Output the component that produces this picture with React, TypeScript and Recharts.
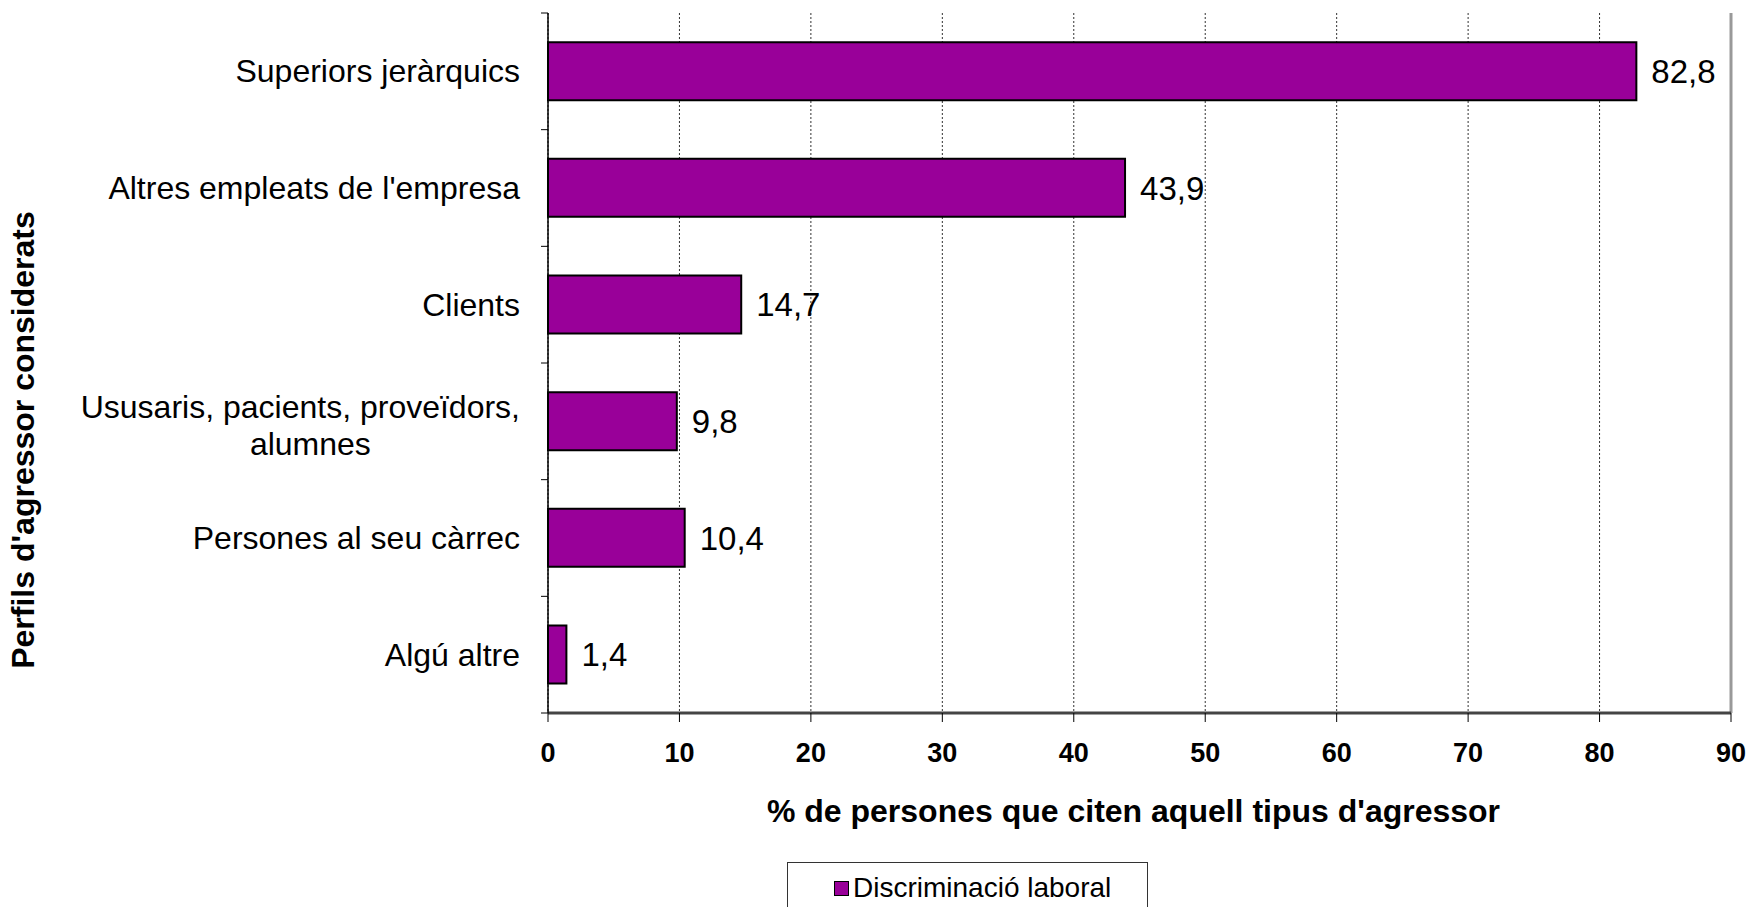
import { BarChart, Bar, XAxis, YAxis, CartesianGrid, LabelList, Legend, ReferenceLine } from 'recharts'

const CATEGORIES = [
  'Superiors jeràrquics',
  "Altres empleats de l'empresa",
  'Clients',
  'Ususaris, pacients, proveïdors,\nalumnes',
  'Persones al seu càrrec',
  'Algú altre',
]
const VALUES = [82.8, 43.9, 14.7, 9.8, 10.4, 1.4]
const X_TICKS = [0, 10, 20, 30, 40, 50, 60, 70, 80, 90]
const SERIES_NAME = 'Discriminació laboral'
const X_TITLE = "% de persones que citen aquell tipus d'agressor"
const Y_TITLE = "Perfils d'agressor considerats"

const W = 1748
const H = 907
const MARGIN = { top: 13, right: 17, bottom: 74, left: 0 }
const X_AXIS_H = 120
const BAND = (H - MARGIN.top - MARGIN.bottom - X_AXIS_H) / CATEGORIES.length
const FONT = "Arial, 'Liberation Sans', sans-serif"
const PURPLE = '#990099'

const data = CATEGORIES.map((name, i) => ({ name, value: VALUES[i] }))

function measure(text: string, font: string) {
  const c = document.createElement('canvas').getContext('2d')
  if (!c) return text.length * 15
  c.font = font
  return c.measureText(text).width
}

// category label + small tick marks at the band edges (Excel style)
function CategoryTick(props: any) {
  const { x, y, payload, index } = props
  const lines = String(payload.value).split('\n')
  const axisX = x + 28
  const size = 32
  const w1 = measure(lines[0], `${size}px ${FONT}`)
  return (
    <g>
      <line x1={axisX - 7} x2={axisX} y1={y - BAND / 2} y2={y - BAND / 2} stroke="#000" />
      {index === CATEGORIES.length - 1 && (
        <line x1={axisX - 7} x2={axisX} y1={y + BAND / 2} y2={y + BAND / 2} stroke="#000" />
      )}
      {lines.length === 1 ? (
        <text x={x} y={y + 11} textAnchor="end" fontSize={size} fontFamily={FONT} fill="#000">
          {lines[0]}
        </text>
      ) : (
        <g>
          <text x={x} y={y - 3} textAnchor="end" fontSize={size} fontFamily={FONT} fill="#000">
            {lines[0]}
          </text>
          <text x={x - w1 / 2 + 10} y={y + 34} textAnchor="middle" fontSize={size} fontFamily={FONT} fill="#000">
            {lines[1]}
          </text>
        </g>
      )}
    </g>
  )
}

function LegendBox() {
  return (
    <div
      style={{
        boxSizing: 'border-box',
        width: 361,
        height: 52,
        border: '1px solid #333',
        background: '#fff',
        display: 'flex',
        alignItems: 'center',
        paddingLeft: 46,
        fontFamily: FONT,
        fontSize: 28,
        color: '#000',
      }}
    >
      <span
        style={{
          display: 'inline-block',
          width: 13,
          height: 13,
          background: PURPLE,
          border: '1.5px solid #000',
          marginRight: 4,
        }}
      />
      <span>{SERIES_NAME}</span>
    </div>
  )
}

export default function App() {
  return (
    <div style={{ position: 'absolute', left: 0, top: 0, width: W, height: H, background: '#fff', overflow: 'hidden' }}>
      <BarChart
        layout="vertical"
        width={W}
        height={H}
        data={data}
        margin={MARGIN}
        barCategoryGap="25%"
      >
        <CartesianGrid horizontal={false} vertical stroke="#333" strokeDasharray="2 2" />
        <XAxis
          type="number"
          domain={[0, 90]}
          ticks={X_TICKS}
          interval={0}
          height={X_AXIS_H}
          tickSize={9}
          tickMargin={21}
          tick={{ fontSize: 27, fontWeight: 'bold', fill: '#000', fontFamily: FONT }}
          axisLine={{ stroke: '#444', strokeWidth: 3 }}
          tickLine={{ stroke: '#000' }}
          label={(p: any) => (
            <text
              x={p.viewBox.x + p.viewBox.width / 2 - 6}
              y={p.viewBox.y + 109}
              textAnchor="middle"
              fontSize={32}
              fontWeight="bold"
              fontFamily={FONT}
              fill="#000"
            >
              {X_TITLE}
            </text>
          )}
        />
        <XAxis
          xAxisId="top"
          orientation="top"
          type="number"
          domain={[0, 90]}
          height={0}
          tick={false}
          tickLine={false}
          axisLine={{ stroke: '#999', strokeWidth: 2 }}
        />
        <YAxis
          type="category"
          dataKey="name"
          width={548}
          interval={0}
          tickSize={7}
          tickMargin={21}
          tickLine={false}
          axisLine={{ stroke: '#000', strokeWidth: 1.5 }}
          tick={<CategoryTick />}
          label={() => (
            <text
              x={23}
              y={440}
              transform="rotate(-90 23 440)"
              textAnchor="middle"
              dominantBaseline="central"
              fontSize={32}
              fontWeight="bold"
              fontFamily={FONT}
              fill="#000"
            >
              {Y_TITLE}
            </text>
          )}
        />
        <ReferenceLine x={90} stroke="#999" strokeWidth={3} />
        <Legend
          layout="horizontal"
          verticalAlign="middle"
          align="center"
          wrapperStyle={{ left: 787, top: 862, width: 361, height: 52 }}
          content={() => <LegendBox />}
        />
        <Bar
          dataKey="value"
          name={SERIES_NAME}
          fill={PURPLE}
          stroke="#000"
          strokeWidth={2}
          isAnimationActive={false}
        >
          <LabelList
            dataKey="value"
            position="right"
            offset={15}
            formatter={(v: any) => String(v).replace('.', ',')}
            style={{ fontSize: 33, fill: '#000', fontFamily: FONT }}
          />
        </Bar>
      </BarChart>
    </div>
  )
}
